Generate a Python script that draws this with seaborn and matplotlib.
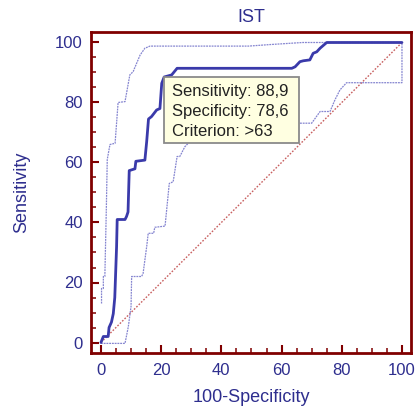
import matplotlib
matplotlib.use("Agg")
import matplotlib.pyplot as plt
import matplotlib.patches as mpatches
from matplotlib.ticker import MultipleLocator
import seaborn as sns
import pandas as pd

# ---- data ----
roc_fpr = [0, 0.8, 2.4, 2.7, 3.5, 4.1, 4.6, 5.2, 5.4, 8.0, 8.5, 9.0, 9.4, 11.3, 11.6, 14.6,
           15.2, 15.8, 16.8, 18.5, 19.6, 20.2, 21.0, 23.5, 25.3, 63.4, 64.5, 66.1, 67.2,
           69.4, 70.5, 71.7, 72.8, 75.0, 100]
roc_tpr = [0, 2.0, 2.0, 5.0, 6.8, 9.6, 15.0, 32.0, 41.0, 41.0, 42.0, 43.5, 57.3, 57.9, 60.4, 60.8,
           67.0, 74.5, 75.3, 77.5, 78.0, 86.4, 88.5, 89.2, 91.4, 91.4, 91.9, 93.6, 93.9,
           94.2, 96.4, 96.9, 98.1, 100, 100]

upper_fpr = [0.2, 0.2, 0.8, 0.8, 1.3, 1.8, 2.1, 3.0, 4.7, 5.7, 8.0, 9.6, 10.7, 13.0, 14.6,
             16.3, 49.0, 56.0, 67.0, 100]
upper_tpr = [13.0, 18.0, 18.0, 22.0, 22.0, 45.0, 61.0, 66.0, 66.4, 80.0, 80.3, 89.2, 90.3,
             95.8, 98.1, 98.8, 98.8, 99.3, 100, 100]

lower_fpr = [0, 8.0, 9.1, 10.0, 10.2, 13.5, 14.0, 15.2, 15.7, 17.5, 17.9, 21.3, 22.7, 24.0,
             25.3, 26.2, 27.9, 29.0, 31.0, 70.0, 72.8, 76.1, 77.7, 79.4, 81.6, 100, 100]
lower_tpr = [-0.3, -0.3, 5.3, 12.0, 22.0, 22.0, 23.0, 32.0, 36.4, 36.4, 38.4, 38.8, 53.0, 53.6,
             62.0, 62.0, 65.3, 66.4, 73.1, 73.1, 77.0, 77.0, 80.8, 84.2, 86.6, 86.6, 100]

diag = [0, 100]

title = "IST"
xlabel = "100-Specificity"
ylabel = "Sensitivity"
box_lines = ["Sensitivity: 88,9", "Specificity: 78,6", "Criterion: >63"]
ticks = [0, 20, 40, 60, 80, 100]

# ---- style ----
sns.set_style("white")
plt.rcParams["font.family"] = ["Liberation Sans", "DejaVu Sans"]

navy = "#2e2e8e"
maroon = "#800000"

fig = plt.figure(figsize=(4.18, 4.11), dpi=100)
ax = fig.add_axes([91 / 418, (411 - 353) / 411, 320 / 418, 321 / 411])

df_roc = pd.DataFrame({"x": roc_fpr, "y": roc_tpr})
df_up = pd.DataFrame({"x": upper_fpr, "y": upper_tpr})
df_lo = pd.DataFrame({"x": lower_fpr, "y": lower_tpr})
df_diag = pd.DataFrame({"x": diag, "y": diag})

sns.lineplot(data=df_diag, x="x", y="y", ax=ax, sort=False, estimator=None,
             color="#c86060", lw=1.0, linestyle=(0, (1.2, 1.2)), zorder=2)
sns.lineplot(data=df_up, x="x", y="y", ax=ax, sort=False, estimator=None,
             color="#8585d0", lw=0.9, linestyle=(0, (1.5, 0.7)), zorder=3)
sns.lineplot(data=df_lo, x="x", y="y", ax=ax, sort=False, estimator=None,
             color="#8585d0", lw=0.9, linestyle=(0, (1.5, 0.7)), zorder=3)
sns.lineplot(data=df_roc, x="x", y="y", ax=ax, sort=False, estimator=None,
             color="#3a3aaa", lw=2.0, zorder=4)

ax.set_xlim(-3.3, 103.0)
ax.set_ylim(-3.5, 103.5)

# annotation box
rect = mpatches.Rectangle((20.9, 66.4), 44.9, 22.1, facecolor="#ffffe1",
                          edgecolor="#8a8a8a", lw=1.3, zorder=6)
ax.add_patch(rect)
for i, line in enumerate(box_lines):
    ax.text(23.5, 83.6 - i * 6.65, line, fontsize=12, color="#222222",
            va="center", ha="left", zorder=7)

ax.set_xticks(ticks)
ax.set_yticks(ticks)
ax.xaxis.set_minor_locator(MultipleLocator(5))
ax.yaxis.set_minor_locator(MultipleLocator(5))
ax.tick_params(which="major", direction="in", length=6, width=1.5, color=maroon,
               labelsize=12, labelcolor=navy, pad=6)
ax.tick_params(which="minor", direction="in", length=3.5, width=1.1, color=maroon)
ax.tick_params(axis="x", which="major", pad=7)
ax.tick_params(bottom=True, left=True, which="both")

for s in ax.spines.values():
    s.set_color(maroon)
    s.set_linewidth(2)

ax.set_title(title, fontsize=13, color=navy, pad=7.5)
ax.set_xlabel(xlabel, fontsize=13, color=navy, labelpad=8)
ax.set_ylabel(ylabel, fontsize=13, color=navy, labelpad=18)

fig.savefig("out.png", dpi=100)
